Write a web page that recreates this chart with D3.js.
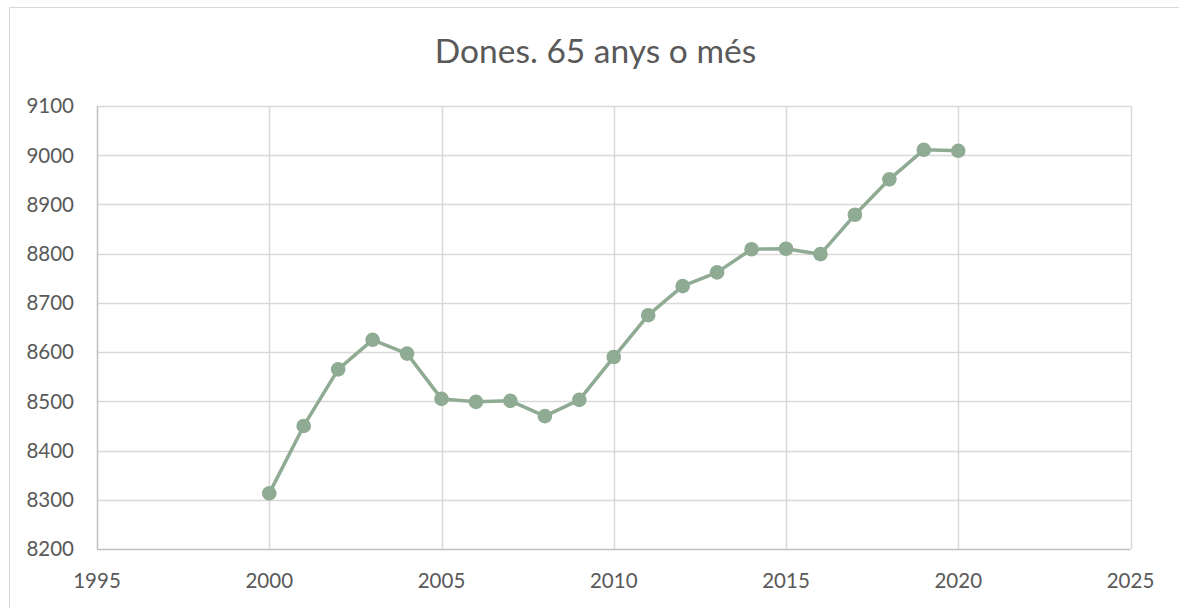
<!DOCTYPE html>
<html>
<head>
<meta charset="utf-8">
<script src="https://cdn.jsdelivr.net/npm/d3@7"></script>
<style>
  body { margin: 0; background: #fff; }
  text { font-family: Lato, 'Open Sans', sans-serif; fill: #595959; }
</style>
</head>
<body>
<div id="chart"></div>
<script>
// data
const years = [2000, 2001, 2002, 2003, 2004, 2005, 2006, 2007, 2008, 2009, 2010,
  2011, 2012, 2013, 2014, 2015, 2016, 2017, 2018, 2019, 2020]
const values = [8313, 8450, 8565, 8625, 8597, 8505, 8499, 8501, 8470, 8503, 8590,
  8675, 8734, 8762, 8809, 8810, 8799, 8879, 8951, 9011, 9009]
const xTicks = [1995, 2000, 2005, 2010, 2015, 2020, 2025]
const yTicks = [8200, 8300, 8400, 8500, 8600, 8700, 8800, 8900, 9000, 9100]
const title = 'Dones. 65 anys o més'

const width = 1179
const height = 608
const margin = { left: 97, right: 48.5, top: 106, bottom: 59 }

const lineColour = '#8fab93'

const svg = d3.select('#chart').append('svg')
  .attr('width', width)
  .attr('height', height)

// outer chart frame (runs off the right and bottom)
svg.append('rect')
  .attr('x', 9.5)
  .attr('y', 7.5)
  .attr('width', 1250)
  .attr('height', 700)
  .attr('fill', 'none')
  .attr('stroke', '#d9d9d9')

const x = d3.scaleLinear()
  .domain([1995, 2025])
  .range([margin.left, width - margin.right])

const y = d3.scaleLinear()
  .domain([8200, 9100])
  .range([height - margin.bottom, margin.top])

// grid
svg.append('g')
  .selectAll('line')
  .data(yTicks)
  .enter().append('line')
  .attr('x1', x(1995))
  .attr('x2', x(2025))
  .attr('y1', d => Math.round(y(d)) + 0.5)
  .attr('y2', d => Math.round(y(d)) + 0.5)
  .attr('stroke', (d, i) => i === 0 ? '#bfbfbf' : '#d9d9d9')
  .attr('stroke-width', 1.5)

svg.append('g')
  .selectAll('line')
  .data(xTicks)
  .enter().append('line')
  .attr('x1', d => Math.round(x(d)) + 0.5)
  .attr('x2', d => Math.round(x(d)) + 0.5)
  .attr('y1', y(9100))
  .attr('y2', y(8200))
  .attr('stroke', (d, i) => i === 0 ? '#bfbfbf' : '#d9d9d9')
  .attr('stroke-width', 1.5)

// tick labels
svg.append('g')
  .selectAll('text')
  .data(yTicks)
  .enter().append('text')
  .attr('x', 74)
  .attr('y', d => y(d))
  .attr('dy', '0.36em')
  .attr('text-anchor', 'end')
  .style('font-size', '20.5px')
  .text(d => d)

svg.append('g')
  .selectAll('text')
  .data(xTicks)
  .enter().append('text')
  .attr('x', d => x(d))
  .attr('y', 588)
  .attr('text-anchor', 'middle')
  .style('font-size', '20.5px')
  .text(d => d)

// title
svg.append('text')
  .attr('x', 595.5)
  .attr('y', 63)
  .attr('text-anchor', 'middle')
  .style('font-size', '33.5px')
  .text(title)

// series
const points = years.map((yr, i) => ({ year: yr, value: values[i] }))

const line = d3.line()
  .x(d => x(d.year))
  .y(d => y(d.value))

svg.append('path')
  .datum(points)
  .attr('d', line)
  .attr('fill', 'none')
  .attr('stroke', lineColour)
  .attr('stroke-width', 3.5)
  .attr('stroke-linejoin', 'round')

svg.append('g')
  .selectAll('circle')
  .data(points)
  .enter().append('circle')
  .attr('cx', d => x(d.year))
  .attr('cy', d => y(d.value))
  .attr('r', 7.3)
  .attr('fill', lineColour)
</script>
</body>
</html>
